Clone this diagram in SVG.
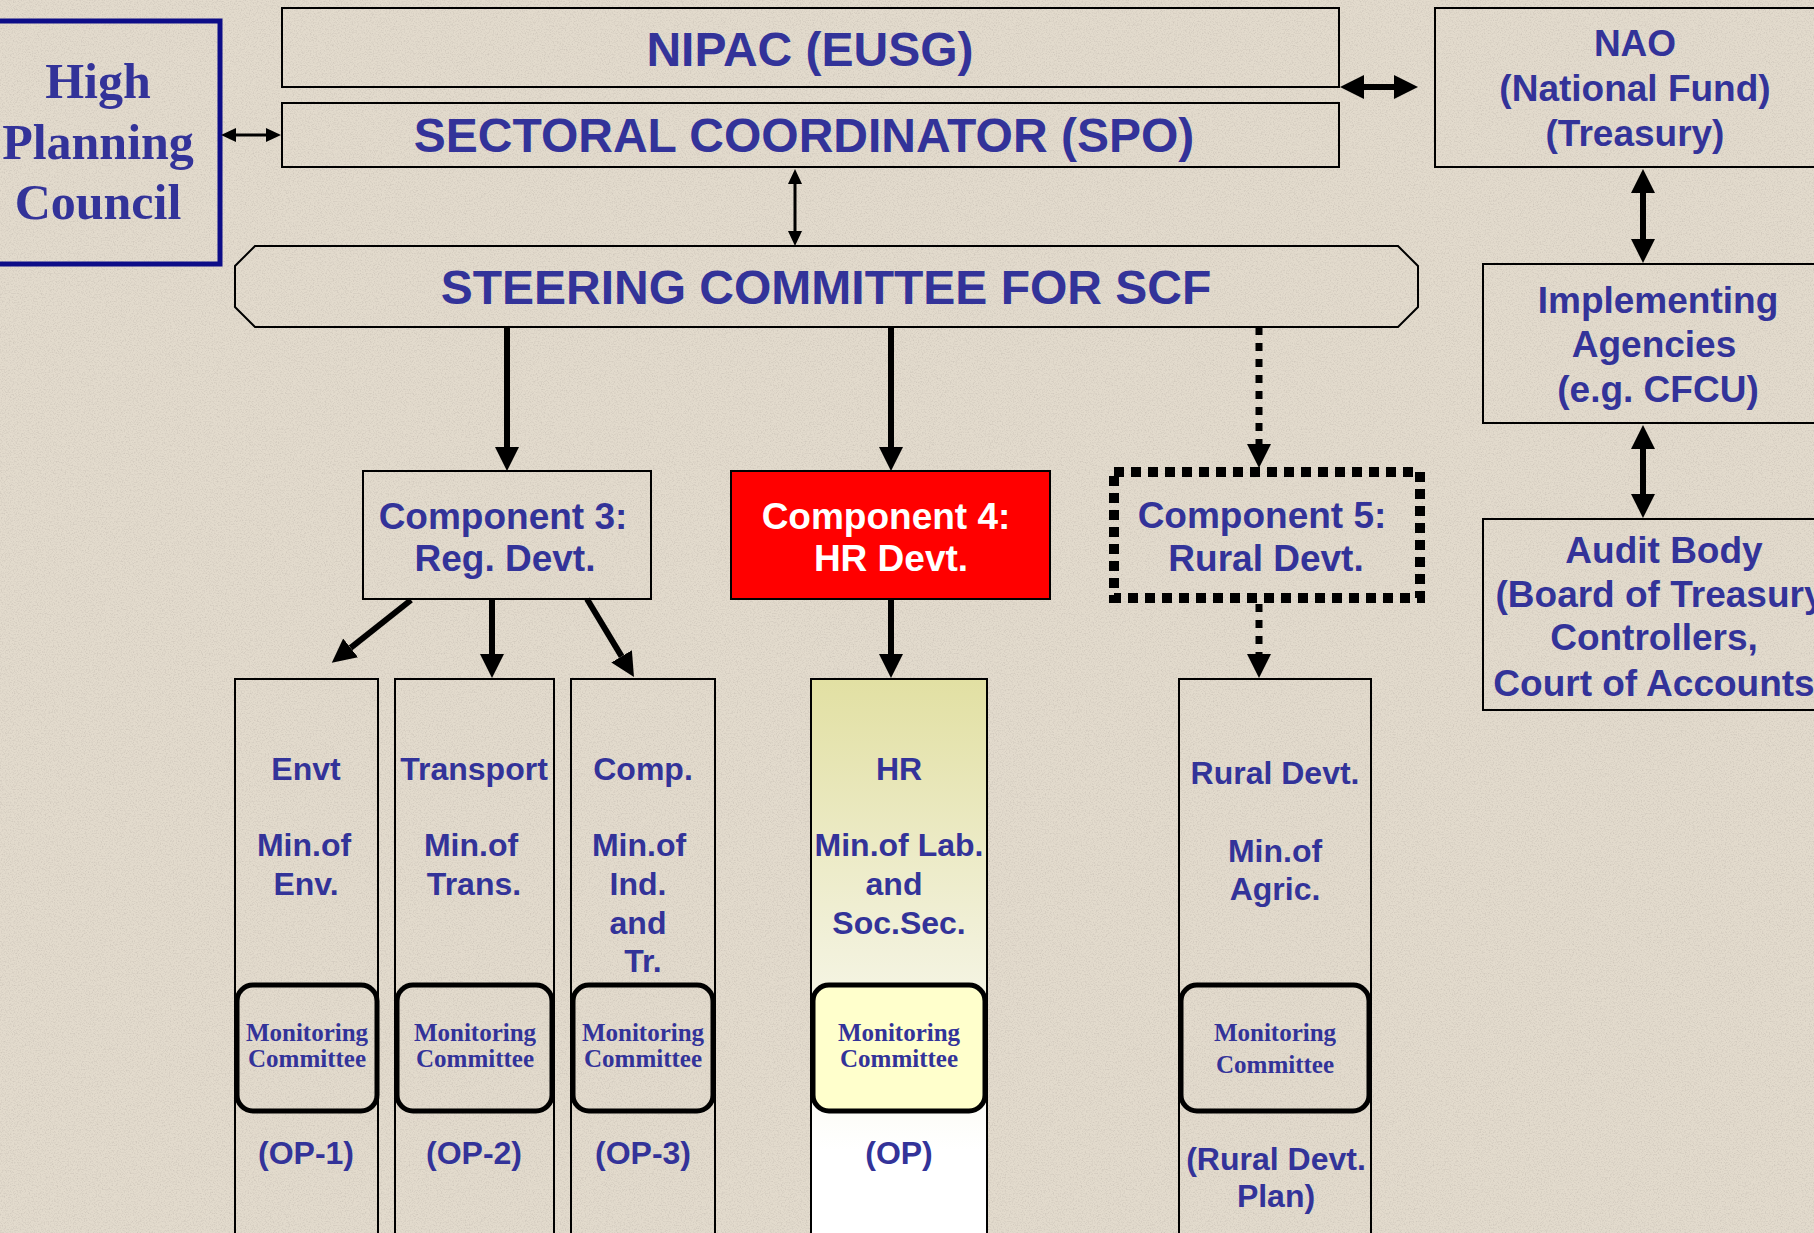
<svg xmlns="http://www.w3.org/2000/svg" width="1814" height="1233" viewBox="0 0 1814 1233">
<style>
  .box{fill:none;stroke:#000;stroke-width:2}
  .t{font-family:"Liberation Sans",Arial,sans-serif;font-weight:bold;fill:#333399;text-anchor:middle}
  .big{font-size:48px}
  .rc{font-size:37px}
  .cmp{font-size:37px}
  .col{font-size:32px}
  .ser{font-family:"Liberation Serif","Times New Roman",serif;font-weight:bold;fill:#333399;text-anchor:middle}
  .mon{font-size:25px}
  .mbox{fill:none;stroke:#000;stroke-width:5}
  .thin{stroke:#000;stroke-width:3;fill:none}
  .thick{stroke:#000;stroke-width:6;fill:none}
  .dot{stroke:#000;stroke-width:7;stroke-dasharray:8 8;fill:none}
</style>
<defs>
  <marker id="hs" markerUnits="userSpaceOnUse" markerWidth="16" markerHeight="14" refX="0" refY="7" orient="auto-start-reverse">
    <path d="M0,0 L15,7 L0,14 z" fill="#000"/>
  </marker>
  <marker id="hb" markerUnits="userSpaceOnUse" markerWidth="26" markerHeight="24" refX="0" refY="12" orient="auto-start-reverse">
    <path d="M0,0 L24,12 L0,24 z" fill="#000"/>
  </marker>
  <linearGradient id="hrg" gradientUnits="userSpaceOnUse" x1="0" y1="679" x2="0" y2="1150">
    <stop offset="0" stop-color="#E2E0A3"/>
    <stop offset="0.55" stop-color="#F1F0D8"/>
    <stop offset="1" stop-color="#FFFFFF"/>
  </linearGradient>
  <filter id="grain" x="0" y="0" width="1" height="1">
    <feTurbulence type="fractalNoise" baseFrequency="0.75" numOctaves="3" seed="7"/>
    <feColorMatrix type="matrix" values="0 0 0 0 0.55  0 0 0 0 0.5  0 0 0 0 0.44  2.4 0 0 0 -1.05"/>
  </filter>
</defs>

<rect id="background" x="0" y="0" width="1814" height="1233" fill="#E3DBCD"/>
<rect x="0" y="0" width="1814" height="1233" filter="url(#grain)" opacity="0.6"/>

<g id="hpc">
  <rect x="-10" y="21" width="230" height="243" fill="none" stroke="#0D0D88" stroke-width="5"/>
  <text class="ser" style="font-size:50px" x="98" y="98">High</text>
  <text class="ser" style="font-size:50px" x="98" y="159">Planning</text>
  <text class="ser" style="font-size:50px" x="98" y="219">Council</text>
</g>

<g id="nipac">
  <rect class="box" x="282" y="8" width="1057" height="79"/>
  <text class="t big" x="810" y="66">NIPAC (EUSG)</text>
</g>

<g id="spo">
  <rect class="box" x="282" y="103" width="1057" height="64"/>
  <text class="t big" x="804" y="152">SECTORAL COORDINATOR (SPO)</text>
</g>

<g id="nao">
  <rect class="box" x="1435" y="8" width="400" height="159"/>
  <text class="t rc" x="1635" y="56">NAO</text>
  <text class="t rc" x="1635" y="101">(National Fund)</text>
  <text class="t rc" x="1635" y="146">(Treasury)</text>
</g>

<g id="impl">
  <rect class="box" x="1483" y="264" width="350" height="159"/>
  <text class="t rc" x="1658" y="313">Implementing</text>
  <text class="t rc" x="1654" y="357">Agencies</text>
  <text class="t rc" x="1658" y="402">(e.g. CFCU)</text>
</g>

<g id="audit">
  <rect class="box" x="1483" y="519" width="350" height="191"/>
  <text class="t rc" x="1664" y="563">Audit Body</text>
  <text class="t rc" x="1660" y="607">(Board of Treasury</text>
  <text class="t rc" x="1654" y="650">Controllers,</text>
  <text class="t rc" x="1654" y="696">Court of Accounts</text>
</g>

<g id="steering">
  <polygon class="box" points="255,246 1398,246 1418,266 1418,307 1398,327 255,327 235,307 235,266"/>
  <text class="t big" x="826" y="304">STEERING COMMITTEE FOR SCF</text>
</g>

<g id="comp3">
  <rect class="box" x="363" y="471" width="288" height="128"/>
  <text class="t cmp" x="503" y="529">Component 3:</text>
  <text class="t cmp" x="505" y="571">Reg. Devt.</text>
</g>

<g id="comp4">
  <rect x="731" y="471" width="319" height="128" fill="#FF0000" stroke="#000" stroke-width="2"/>
  <text class="t cmp" x="886" y="529" style="fill:#FFFFFF">Component 4:</text>
  <text class="t cmp" x="891" y="571" style="fill:#FFFFFF">HR Devt.</text>
</g>

<g id="comp5">
  <rect x="1114" y="472" width="306" height="126" fill="none" stroke="#000" stroke-width="10" stroke-dasharray="10 7"/>
  <text class="t cmp" x="1262" y="528">Component 5:</text>
  <text class="t cmp" x="1266" y="571">Rural Devt.</text>
</g>

<g id="col-envt">
  <rect class="box" x="235" y="679" width="143" height="570"/>
  <text class="t col" x="306" y="780">Envt</text>
  <text class="t col" x="304" y="856">Min.of</text>
  <text class="t col" x="306" y="895">Env.</text>
  <rect class="mbox" x="237" y="985" width="140" height="126" rx="16"/>
  <text class="ser mon" x="307" y="1041">Monitoring</text>
  <text class="ser mon" x="307" y="1067">Committee</text>
  <text class="t col" x="306" y="1164">(OP-1)</text>
</g>

<g id="col-transport">
  <rect class="box" x="395" y="679" width="159" height="570"/>
  <text class="t col" x="474" y="780">Transport</text>
  <text class="t col" x="471" y="856">Min.of</text>
  <text class="t col" x="474" y="895">Trans.</text>
  <rect class="mbox" x="397" y="985" width="155" height="126" rx="16"/>
  <text class="ser mon" x="475" y="1041">Monitoring</text>
  <text class="ser mon" x="475" y="1067">Committee</text>
  <text class="t col" x="474" y="1164">(OP-2)</text>
</g>

<g id="col-comp">
  <rect class="box" x="571" y="679" width="144" height="570"/>
  <text class="t col" x="643" y="780">Comp.</text>
  <text class="t col" x="639" y="856">Min.of</text>
  <text class="t col" x="638" y="895">Ind.</text>
  <text class="t col" x="638" y="934">and</text>
  <text class="t col" x="643" y="972">Tr.</text>
  <rect class="mbox" x="573" y="985" width="140" height="126" rx="16"/>
  <text class="ser mon" x="643" y="1041">Monitoring</text>
  <text class="ser mon" x="643" y="1067">Committee</text>
  <text class="t col" x="643" y="1164">(OP-3)</text>
</g>

<g id="col-hr">
  <rect x="811" y="679" width="176" height="570" fill="url(#hrg)" stroke="#000" stroke-width="2"/>
  <text class="t col" x="899" y="780">HR</text>
  <text class="t col" x="899" y="856">Min.of Lab.</text>
  <text class="t col" x="894" y="895">and</text>
  <text class="t col" x="899" y="934">Soc.Sec.</text>
  <rect x="813" y="985" width="172" height="126" rx="16" fill="#FFFFCC" stroke="#000" stroke-width="5"/>
  <text class="ser mon" x="899" y="1041">Monitoring</text>
  <text class="ser mon" x="899" y="1067">Committee</text>
  <text class="t col" x="899" y="1164">(OP)</text>
</g>

<g id="col-rural">
  <rect class="box" x="1179" y="679" width="192" height="570"/>
  <text class="t col" x="1275" y="784">Rural Devt.</text>
  <text class="t col" x="1275" y="862">Min.of</text>
  <text class="t col" x="1275" y="900">Agric.</text>
  <rect class="mbox" x="1181" y="985" width="188" height="126" rx="16"/>
  <text class="ser mon" x="1275" y="1041">Monitoring</text>
  <text class="ser mon" x="1275" y="1073">Committee</text>
  <text class="t col" x="1276" y="1170">(Rural Devt.</text>
  <text class="t col" x="1276" y="1207">Plan)</text>
</g>

<g id="connectors">
  <line class="thin" x1="236" y1="135" x2="266" y2="135" marker-start="url(#hs)" marker-end="url(#hs)"/>
  <line class="thin" x1="795" y1="184" x2="795" y2="231" marker-start="url(#hs)" marker-end="url(#hs)"/>
  <line class="thick" x1="1364" y1="87" x2="1394" y2="87" marker-start="url(#hb)" marker-end="url(#hb)"/>
  <line class="thick" x1="1643" y1="193" x2="1643" y2="239" marker-start="url(#hb)" marker-end="url(#hb)"/>
  <line class="thick" x1="1643" y1="449" x2="1643" y2="494" marker-start="url(#hb)" marker-end="url(#hb)"/>
  <line class="thick" x1="507" y1="327" x2="507" y2="447" marker-end="url(#hb)"/>
  <line class="thick" x1="891" y1="327" x2="891" y2="447" marker-end="url(#hb)"/>
  <line class="dot" x1="1259" y1="327" x2="1259" y2="444" marker-end="url(#hb)"/>
  <line class="thick" x1="411" y1="600" x2="350.6" y2="647.9" marker-end="url(#hb)"/>
  <line class="thick" x1="492" y1="599" x2="492" y2="654" marker-end="url(#hb)"/>
  <line class="thick" x1="587" y1="599" x2="621.6" y2="656.4" marker-end="url(#hb)"/>
  <line class="thick" x1="891" y1="599" x2="891" y2="654" marker-end="url(#hb)"/>
  <line class="dot" x1="1259" y1="604" x2="1259" y2="654" marker-end="url(#hb)"/>
</g>
</svg>
